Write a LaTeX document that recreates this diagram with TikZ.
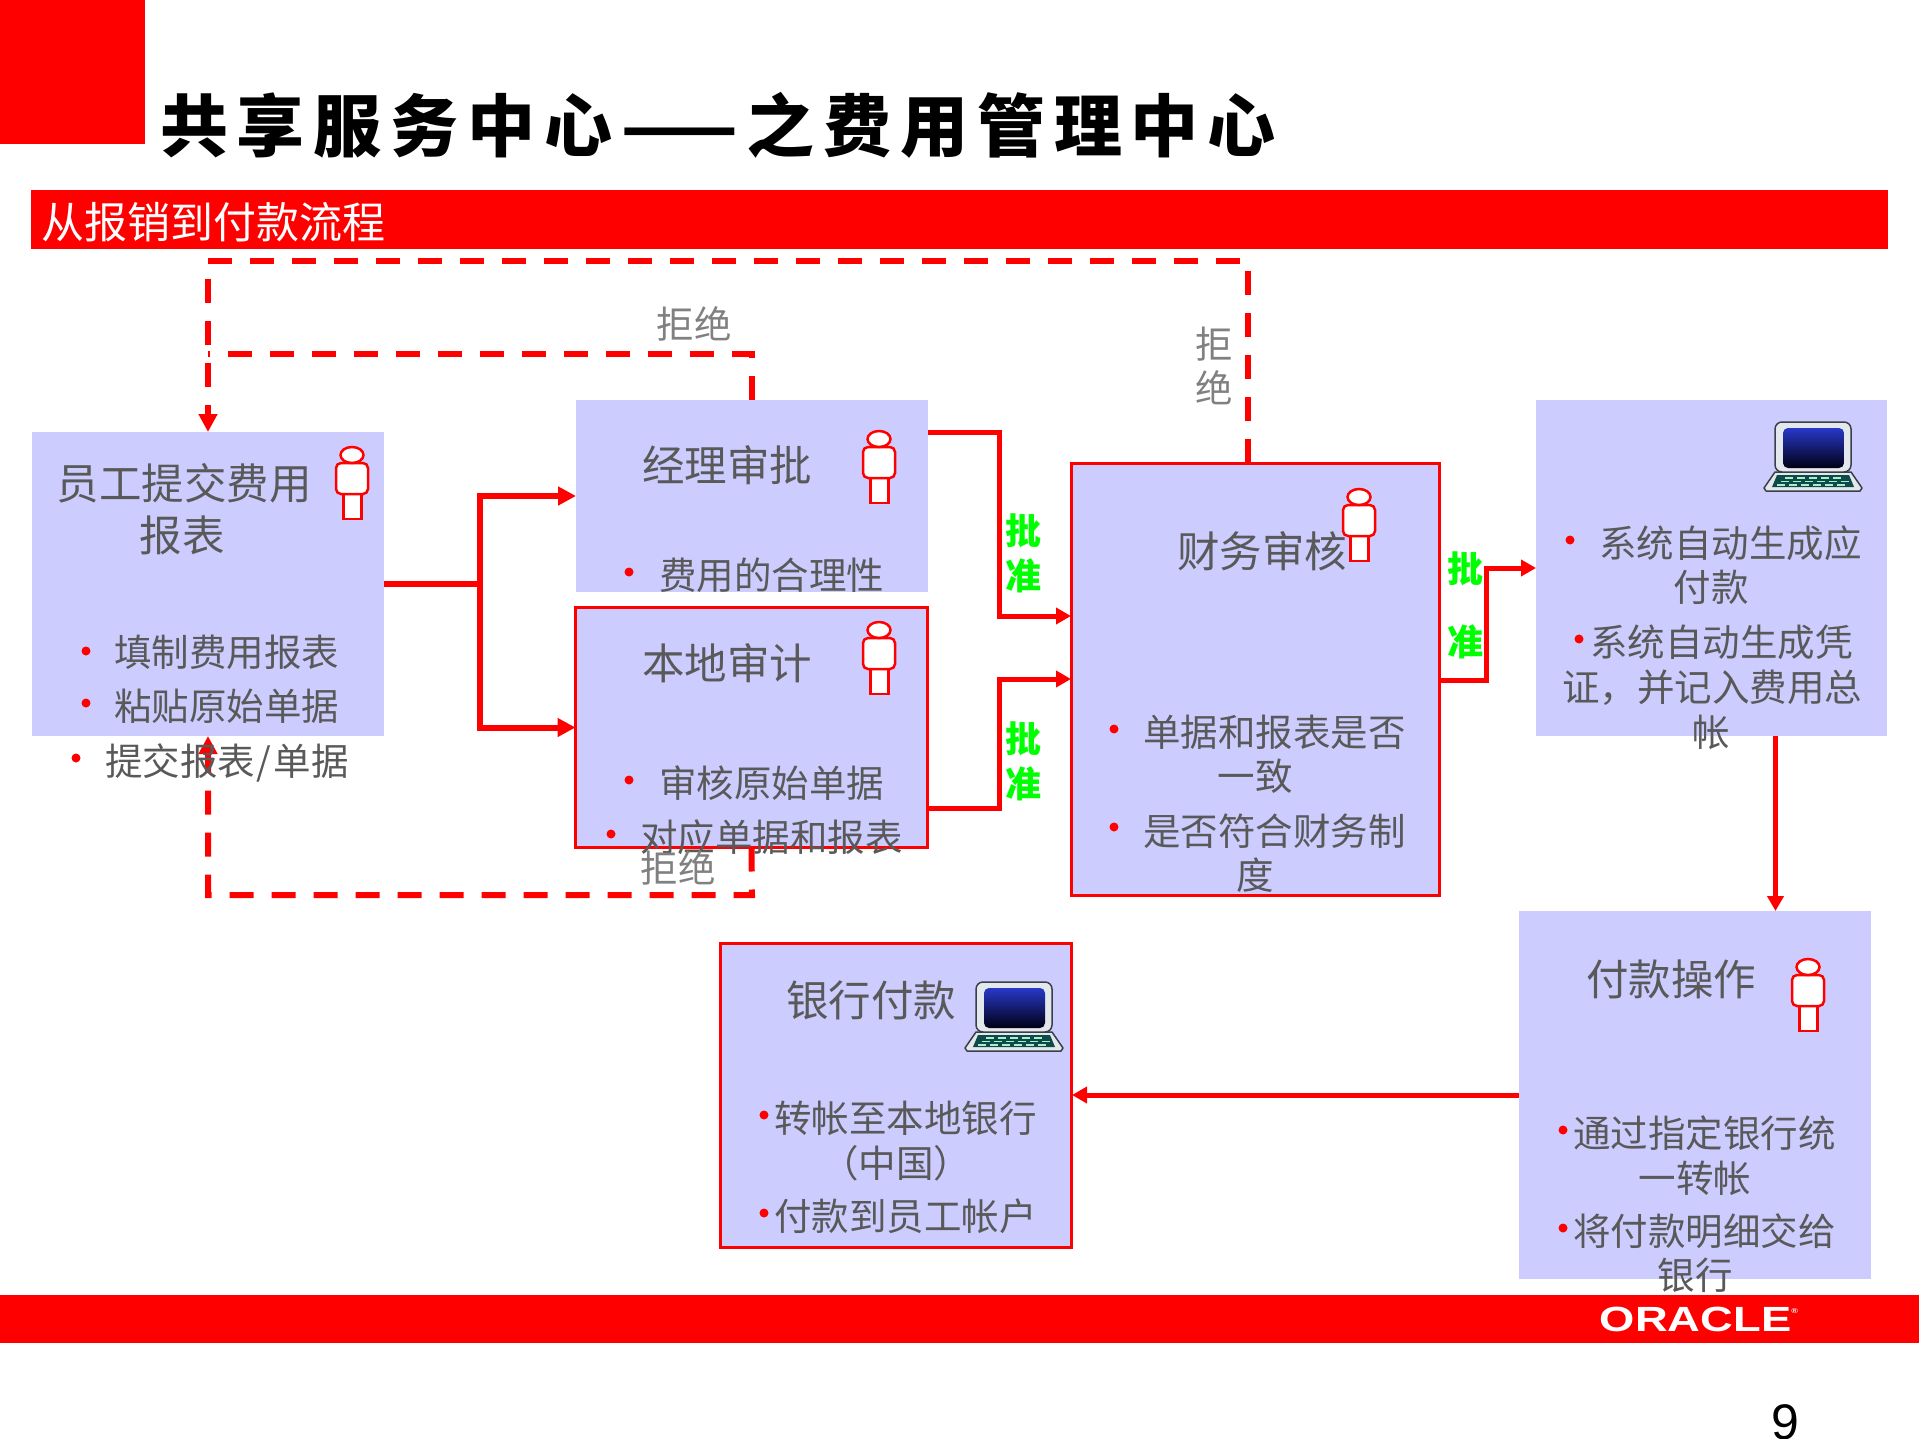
\documentclass[tikz,border=0pt]{standalone}
\usepackage{fontspec}
\usetikzlibrary{arrows.meta}
\setmainfont{Noto Sans CJK SC}
\newfontfamily\cjk{Noto Sans CJK SC}
\newfontfamily\titlefont[LetterSpace=13]{Noto Sans CJK SC}
\newfontfamily\lat{Liberation Sans}
\definecolor{oraRed}{HTML}{FF0000}
\definecolor{boxBlue}{HTML}{CCCCFF}
\definecolor{bodyGray}{HTML}{595959}
\definecolor{labelGray}{HTML}{808080}
\definecolor{okGreen}{HTML}{00FF00}
\definecolor{lapBody}{HTML}{E3E8EC}
\definecolor{lapEdge}{HTML}{3A3F48}
\definecolor{lapKeys}{HTML}{0F4A4A}
\definecolor{lapKey}{HTML}{A8F0C8}
\definecolor{scrTop}{HTML}{2838C8}
\definecolor{scrBot}{HTML}{000014}
\tikzset{
  txt/.style={inner sep=0pt,outer sep=0pt,font=\cjk\fontsize{#1}{#1}\selectfont,text height=#1*0.88pt,text depth=#1*0.08pt},
  body/.style={txt=37.5,text=bodyGray},
  boxtitle/.style={txt=42.5,text=bodyGray},
  reject/.style={txt=37.5,text=labelGray},
  approve/.style={txt=36,text=okGreen,font=\cjk\bfseries\fontsize{36}{36}\selectfont},
  plainbox/.style={rectangle,fill=boxBlue,inner sep=0pt,outer sep=0pt,anchor=north west},
  redbox/.style={plainbox,draw=oraRed,line width=3pt},
  flow/.style={draw=oraRed,line width=6pt,-{Triangle[length=18pt,width=18pt]}},
  flowthin/.style={draw=oraRed,line width=5pt,-{Triangle[length=15pt,width=16pt]}},
  back/.style={draw=oraRed,line width=6pt,dash pattern=on 24pt off 18pt,-{Triangle[length=18pt,width=18pt]}},
  backplain/.style={draw=oraRed,line width=6pt,dash pattern=on 24pt off 18pt},
  dot/.style={fill=oraRed},
  pics/personicon/.style={code={
    \draw[draw=oraRed,fill=white,line width=2.5pt] (-8.5,47) rectangle (9.5,72);
    \draw[draw=oraRed,fill=white,line width=2.5pt,rounded corners=5pt] (-16,16) rectangle (16,47);
    \draw[draw=oraRed,fill=white,line width=2.5pt] (0,8) ellipse [x radius=11.5pt,y radius=8pt];
  }},
  pics/laptopicon/.style={code={
    \draw[draw=lapEdge,fill=lapBody,line width=1.5pt,line join=round] (-38,50) -- (38,50) -- (49,66) -- (47,69) -- (-47,69) -- (-49,66) -- cycle;
    \fill[lapKeys] (-36,53) -- (36,53) -- (41,65) -- (-41,65) -- cycle;
    \foreach \k in {-28,-16,-4,8,20} {\fill[lapKey] (\k,55) rectangle ++(8,1.6);}
    \foreach \k in {-32,-20,-8,4,16,28} {\fill[lapKey] (\k,58.5) rectangle ++(8,1.6);}
    \foreach \k in {-36,-24,-12,0,12,24} {\fill[lapKey] (\k,62) rectangle ++(8,1.6);}
    \draw[draw=lapEdge,fill=lapBody,line width=1.5pt,rounded corners=7pt] (-38,0) rectangle (38,50);
    \path[rounded corners=5pt,top color=scrTop,bottom color=scrBot] (-30,6) rectangle (31,46);
  }}
}
\begin{document}
\begin{tikzpicture}[x=1pt,y=-1pt]
\useasboundingbox (0,0) rectangle (1919,1439);
% bands
\fill[oraRed] (0,0) rectangle (145,144);
\fill[oraRed] (31,190) rectangle (1888,249);
\fill[oraRed] (0,1295) rectangle (1919,1343);
\node[anchor=west,inner sep=0pt,font=\titlefont\bfseries\fontsize{68}{68}\selectfont,text=black,text height=54pt,text depth=7pt] (title) at (160,128) {共享服务中心——之费用管理中心};
\node[anchor=west,txt=43,text=white] (band) at (41,221) {从报销到付款流程};
\node[anchor=center,inner sep=0pt,text=white,font=\lat\bfseries\fontsize{35}{35}\selectfont] (oracle) at (1699,1319) {\scalebox{1.295}[1]{ORACLE\raisebox{0.5em}{\fontsize{7}{7}\selectfont ®}}};
\node[anchor=center,inner sep=0pt,text=black,font=\lat\fontsize{50}{50}\selectfont] (pageno) at (1785,1422) {9};
% boxes
\node[plainbox,minimum width=352pt,minimum height=304pt] (emp) at (32,432) {};
\node[plainbox,minimum width=352pt,minimum height=192pt] (mgr) at (576,400) {};
\node[redbox,minimum width=352pt,minimum height=240pt] (aud) at (575.5,607.5) {};
\node[redbox,minimum width=368pt,minimum height=432pt] (fin) at (1071.5,463.5) {};
\node[plainbox,minimum width=351pt,minimum height=336pt] (sys) at (1536,400) {};
\node[plainbox,minimum width=352pt,minimum height=368pt] (pay) at (1519,911) {};
\node[redbox,minimum width=351pt,minimum height=304pt] (bank) at (720,943) {};
% helper coordinates
\coordinate (mgrOut) at (928,432);
\coordinate (audOut) at (928,808);
\coordinate (finInA) at (1071,616);
\coordinate (finInB) at (1071,679);
\coordinate (finOut) at (1440,680);
\coordinate (sysIn) at (1536,568);
\coordinate (sysOut) at (1775.5,736);
\coordinate (payIn) at (1775.5,911);
\coordinate (payOut) at (1519,1095);
\coordinate (bankIn) at (1072,1095);
\coordinate (finTop) at (1248,463);
\coordinate (outerA) at (1248,261);
\coordinate (outerB) at (208,261);
\coordinate (innerA) at (752,354);
\coordinate (innerB) at (208,354);
\coordinate (lowA) at (752,895);
\coordinate (lowB) at (208,895);
% rejected paths
\draw[back] (finTop) -- (outerA) -- (outerB) -- (emp.north);
\draw[backplain] (mgr.north) -- (innerA) -- (innerB);
\draw[back] (aud.south) -- (lowA) -- (lowB) -- (emp.south);
% forward paths
\draw[flow] (emp.east) -- ++(96,0) |- (mgr.west);
\draw[flow] (emp.east) -- ++(96,0) |- (aud.west);
\draw[flowthin] (mgrOut) -- ++(71,0) |- (finInA);
\draw[flowthin] (audOut) -- ++(71,0) |- (finInB);
\draw[flowthin] (finOut) -- ++(46,0) |- (sysIn);
\draw[flowthin] (sysOut) -- (payIn);
\draw[flowthin] (payOut) -- (bankIn);
% icons
\pic at (352,447) {personicon};
\pic at (879,431) {personicon};
\pic at (879,622) {personicon};
\pic at (1359,489) {personicon};
\pic at (1808,959) {personicon};
\pic at (1813,422) {laptopicon};
\pic at (1014,982) {laptopicon};
% employee
\node[boxtitle] (empT1) at (184,482) {员工提交费用};
\node[boxtitle] (empT2) at (182,534) {报表};
\fill[dot] (86,651) circle (4.5);
\node[body,anchor=west] (empA) at (114,651) {填制费用报表};
\fill[dot] (86,703) circle (4.5);
\node[body,anchor=west] (empB) at (114,705) {粘贴原始单据};
\fill[dot] (76,758) circle (4.5);
\node[body,anchor=west] (empC) at (105,760) {提交报表\kern2pt/\kern2pt单据};
% manager
\node[boxtitle] (mgrT) at (727,464) {经理审批};
\fill[dot] (629,572) circle (4.5);
\node[body,anchor=west] (mgrA) at (659,574) {费用的合理性};
% audit
\node[boxtitle] (audT) at (727,662) {本地审计};
\fill[dot] (629,780) circle (4.5);
\node[body,anchor=west] (audA) at (659,782) {审核原始单据};
\fill[dot] (611,834) circle (4.5);
\node[body,anchor=west] (audB) at (640,836) {对应单据和报表};
% finance
\node[boxtitle] (finT) at (1262,550) {财务审核};
\fill[dot] (1114,729) circle (4.5);
\node[body,anchor=west] (finA) at (1143,731) {单据和报表是否};
\node[body] (finB) at (1255,775) {一致};
\fill[dot] (1114,827) circle (4.5);
\node[body,anchor=west] (finC) at (1143,830) {是否符合财务制};
\node[body] (finD) at (1255,874) {度};
% system
\fill[dot] (1570,540) circle (4.5);
\node[body,anchor=west] (sysA) at (1599,542) {系统自动生成应};
\node[body] (sysB) at (1711,586) {付款};
\fill[dot] (1579,639) circle (4.5);
\node[body,anchor=west] (sysC) at (1590,641) {系统自动生成凭};
\node[body,anchor=west] (sysD) at (1562,686) {证，并记入费用总};
\node[body] (sysE) at (1711,731) {帐};
% payment
\node[boxtitle] (payT) at (1671,978) {付款操作};
\fill[dot] (1563,1130) circle (4.5);
\node[body,anchor=west] (payA) at (1573,1132) {通过指定银行统};
\node[body] (payB) at (1695,1177) {一转帐};
\fill[dot] (1563,1228) circle (4.5);
\node[body,anchor=west] (payC) at (1573,1230) {将付款明细交给};
\node[body] (payD) at (1695,1274) {银行};
% bank
\node[boxtitle] (bankT) at (871,999) {银行付款};
\fill[dot] (764,1115) circle (4.5);
\node[body,anchor=west] (bankA) at (774,1117) {转帐至本地银行};
\node[body] (bankB) at (896,1162) {（中国）};
\fill[dot] (764,1213) circle (4.5);
\node[body,anchor=west] (bankC) at (774,1215) {付款到员工帐户};
% rejects
\node[reject] (rejA) at (694,323) {拒绝};
\node[reject] (rejB1) at (1214,343) {拒};
\node[reject] (rejB2) at (1214,387) {绝};
\node[reject] (rejC) at (678,867) {拒绝};
% approvals
\node[approve] (okA1) at (1023,530) {批};
\node[approve] (okA2) at (1023,575) {准};
\node[approve] (okB1) at (1023,738) {批};
\node[approve] (okB2) at (1023,783) {准};
\node[approve] (okC1) at (1465,568) {批};
\node[approve] (okC2) at (1465,641) {准};
\end{tikzpicture}
\end{document}
